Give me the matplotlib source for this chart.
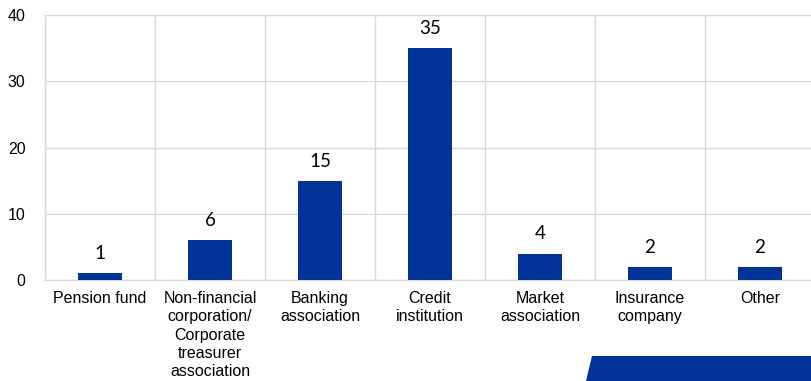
import matplotlib
matplotlib.use("Agg")
import matplotlib.pyplot as plt
from matplotlib.patches import Polygon
import numpy as np

categories = ["Pension fund",
              "Non-financial\ncorporation/\nCorporate\ntreasurer\nassociation",
              "Banking\nassociation",
              "Credit\ninstitution",
              "Market\nassociation",
              "Insurance\ncompany",
              "Other"]
counts = [1, 6, 15, 35, 4, 2, 2]

blue = "#003299"
grid_c = "#d9d9d9"

fig = plt.figure(figsize=(8.11, 3.81), dpi=100)
ax = fig.add_axes([45 / 811, 1 - 280 / 381, 770 / 811, 265 / 381])

x = np.arange(len(categories))
bars = ax.bar(x, counts, width=0.4, color=blue, zorder=3)

for xi, v in zip(x, counts):
    ax.annotate(str(v), (xi, v), xytext=(0, 8), textcoords="offset points",
                ha="center", va="bottom", fontsize=13.5, family="Lato", color="black")

ax.set_xlim(-0.5, len(categories) - 0.5)
ax.set_ylim(0, 40)
ax.set_yticks([0, 10, 20, 30, 40])
ax.set_xticks(x)
ax.set_xticklabels(categories, fontsize=11.5, family="Liberation Sans",
                   linespacing=1.27, va="top")
ax.tick_params(axis="x", length=0, pad=8)
ax.tick_params(axis="y", length=0, pad=14, labelsize=11.5)
for lab in ax.get_yticklabels():
    lab.set_family("Liberation Sans")

# horizontal grid
ax.yaxis.grid(True, color=grid_c, linewidth=1.0, zorder=0)
# vertical separators between categories
for b in np.arange(-0.5, len(categories) + 0.5, 1.0):
    ax.axvline(b, color=grid_c, linewidth=1.0, zorder=0)

for s in ["top", "right"]:
    ax.spines[s].set_visible(False)
for s in ["left", "bottom"]:
    ax.spines[s].set_color(grid_c)
    ax.spines[s].set_linewidth(1.0)

# decorative band bottom right
band = Polygon([[586 / 811, 0], [592 / 811, 1 - 356 / 381],
                [1, 1 - 356 / 381], [1, 0]],
               closed=True, transform=fig.transFigure, facecolor=blue,
               edgecolor="none")
fig.patches.append(band)

fig.savefig("out.png", dpi=100)
